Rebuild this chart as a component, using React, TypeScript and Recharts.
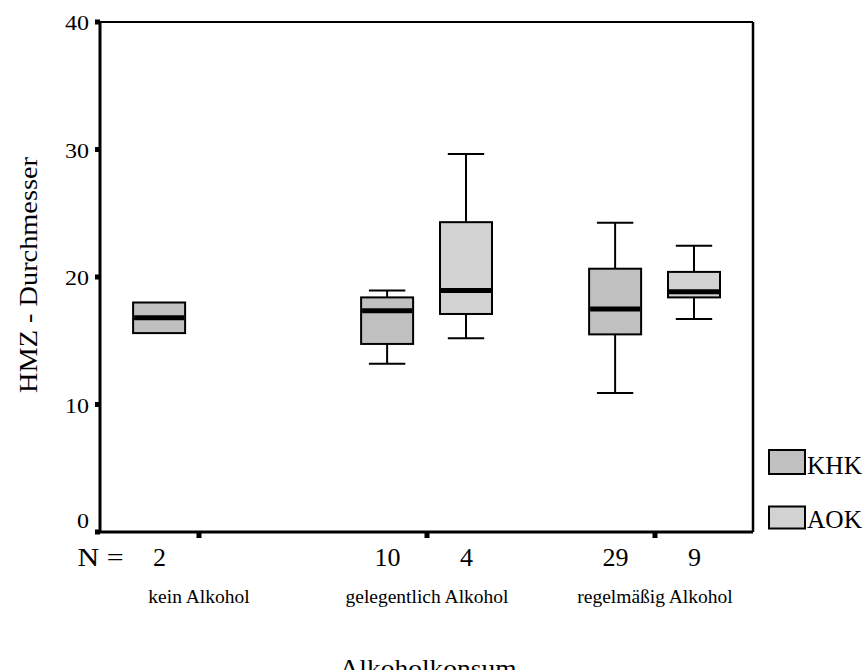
import React from 'react';
import { ComposedChart, Bar, XAxis, YAxis, Legend } from 'recharts';

// ---------- data ----------
const categories = ['kein Alkohol', 'gelegentlich Alkohol', 'regelmäßig Alkohol'];
const groups = ['KHK', 'AOK'];

const khkN = [2, 10, 29];
const khkMin = [null, 13.2, 10.9];
const khkQ1 = [15.6, 14.75, 15.5];
const khkMedian = [16.8, 17.35, 17.5];
const khkQ3 = [18.0, 18.4, 20.65];
const khkMax = [null, 18.95, 24.25];

const aokN = [null, 4, 9];
const aokMin = [null, 15.2, 16.7];
const aokQ1 = [null, 17.1, 18.4];
const aokMedian = [null, 18.95, 18.85];
const aokQ3 = [null, 24.3, 20.4];
const aokMax = [null, 29.65, 22.45];

const yTicks = [0, 10, 20, 30, 40];

// ---------- style / layout ----------
const FONT = "'Liberation Serif', 'Times New Roman', Times, serif";
const W = 865;
const H = 670;
const X_DOMAIN: [number, number] = [-0.4342, 2.4298];
const GROUP_OFFSET = [-0.173, 0.173];
const GROUP_FILL = ['#c0c0c0', '#d2d2d2'];

type Row = {
  x: number;
  cat: number;
  group: number;
  n: number;
  min: number | null;
  q1: number;
  median: number;
  q3: number;
  max: number | null;
};

const seriesStats = [
  { n: khkN, min: khkMin, q1: khkQ1, median: khkMedian, q3: khkQ3, max: khkMax },
  { n: aokN, min: aokMin, q1: aokQ1, median: aokMedian, q3: aokQ3, max: aokMax },
];

const rows: Row[] = [];
categories.forEach((_, i) => {
  seriesStats.forEach((s, g) => {
    if (s.q1[i] == null) return;
    rows.push({
      x: i + GROUP_OFFSET[g],
      cat: i,
      group: g,
      n: s.n[i] as number,
      min: s.min[i],
      q1: s.q1[i] as number,
      median: s.median[i] as number,
      q3: s.q3[i] as number,
      max: s.max[i],
    });
  });
});

const labelTicks = [...categories.map((_, i) => i), ...rows.map((r) => r.x)].sort((a, b) => a - b);

function BoxShape(props: any) {
  const { x, y, width, height, payload } = props;
  const p = payload as Row;
  if (typeof y !== 'number' || typeof height !== 'number') return null;
  const ppu = height / (p.q3 - p.q1);
  const toY = (v: number) => y + (p.q3 - v) * ppu;
  const cx = x + width / 2;
  const cap = width * 0.7;
  const fill = GROUP_FILL[p.group];
  return (
    <g>
      {p.max != null && (
        <g>
          <line x1={cx} x2={cx} y1={toY(p.max)} y2={y} stroke="#000" strokeWidth={2} />
          <line x1={cx - cap / 2} x2={cx + cap / 2} y1={toY(p.max)} y2={toY(p.max)} stroke="#000" strokeWidth={2} />
        </g>
      )}
      {p.min != null && (
        <g>
          <line x1={cx} x2={cx} y1={y + height} y2={toY(p.min)} stroke="#000" strokeWidth={2} />
          <line x1={cx - cap / 2} x2={cx + cap / 2} y1={toY(p.min)} y2={toY(p.min)} stroke="#000" strokeWidth={2} />
        </g>
      )}
      <rect x={x} y={y} width={width} height={height} fill={fill} stroke="#000" strokeWidth={2} />
      <line x1={x + 1} x2={x + width - 1} y1={toY(p.median)} y2={toY(p.median)} stroke="#000" strokeWidth={5} />
    </g>
  );
}

function XLabelTick(props: any) {
  const { x, y, payload } = props;
  const v = payload.value as number;
  const catIdx = categories.findIndex((_, i) => Math.abs(i - v) < 1e-6);
  if (catIdx >= 0) {
    return (
      <g>
        <rect x={x - 2.5} y={y + 1} width={5} height={5} fill="#000" />
        <text x={x} y={y + 70.5} textAnchor="middle" fontSize={19.5} fontFamily={FONT} fill="#000">
          {categories[catIdx]}
        </text>
      </g>
    );
  }
  const idx = rows.findIndex((r) => Math.abs(r.x - v) < 1e-6);
  if (idx < 0) return null;
  const row = rows[idx];
  return (
    <g>
      {idx === 0 && (
        <text x={x - 82} y={y + 34} fontSize={26} fontFamily={FONT} fill="#000" textLength={46} lengthAdjust="spacingAndGlyphs">
          N =
        </text>
      )}
      <text x={x} y={y + 34} textAnchor="middle" fontSize={26} fontFamily={FONT} fill="#000">
        {row.n}
      </text>
    </g>
  );
}

function YTick(props: any) {
  const { x, y, payload } = props;
  const v = payload.value as number;
  const s = String(v);
  return (
    <g>
      <rect x={x - 5} y={y - 2.5} width={5} height={5} fill="#000" />
      <text
        x={x - 11}
        y={v === 0 ? y - 4 : y + 8}
        textAnchor="end"
        fontSize={21}
        fontFamily={FONT}
        fill="#000"
        textLength={12 * s.length}
        lengthAdjust="spacingAndGlyphs"
      >
        {s}
      </text>
    </g>
  );
}

const legendBoxY = [10, 66.5];
const legendBoxH = [24, 22];
const legendTextY = [34, 88];

function LegendContent() {
  return (
    <svg width={105} height={100} style={{ display: 'block', overflow: 'visible' }}>
      {groups.map((g, i) => (
        <g key={g}>
          <rect x={9} y={legendBoxY[i]} width={36} height={legendBoxH[i]} fill={GROUP_FILL[i]} stroke="#000" strokeWidth={2} />
          <text x={47} y={legendTextY[i]} fontSize={26} fontFamily={FONT} fill="#000" textLength={55} lengthAdjust="spacingAndGlyphs">
            {g}
          </text>
        </g>
      ))}
    </svg>
  );
}

export default function App() {
  return (
    <div style={{ position: 'absolute', left: 0, top: 0, width: W, height: H, background: '#fff' }}>
      <ComposedChart width={W} height={H} data={rows} margin={{ top: 21, right: 111, bottom: 0, left: 0 }}>
        <XAxis xAxisId="main" dataKey="x" type="number" domain={X_DOMAIN} allowDataOverflow hide />
        <XAxis
          xAxisId="labels"
          dataKey="x"
          type="number"
          domain={X_DOMAIN}
          allowDataOverflow
          ticks={labelTicks}
          interval={0}
          tick={<XLabelTick />}
          tickLine={false}
          tickSize={0}
          tickMargin={0}
          height={138}
          axisLine={{ stroke: '#000', strokeWidth: 3 }}
          label={{
            content: (p: any) => {
              const vb = p.viewBox || { x: 100, y: 532, width: 653 };
              return (
                <text
                  x={vb.x + vb.width / 2 + 1.5}
                  y={vb.y + 145}
                  textAnchor="middle"
                  fontSize={26}
                  fontFamily={FONT}
                  fill="#000"
                  textLength={177}
                  lengthAdjust="spacingAndGlyphs"
                >
                  Alkoholkonsum
                </text>
              );
            },
          }}
        />
        <XAxis
          xAxisId="top"
          dataKey="x"
          orientation="top"
          type="number"
          domain={X_DOMAIN}
          allowDataOverflow
          tick={false}
          tickLine={false}
          height={1}
          axisLine={{ stroke: '#000', strokeWidth: 2 }}
        />
        <YAxis
          yAxisId="left"
          type="number"
          domain={[0, 40]}
          allowDataOverflow
          ticks={yTicks}
          interval={0}
          width={100}
          tick={<YTick />}
          tickLine={false}
          tickSize={0}
          tickMargin={0}
          axisLine={{ stroke: '#000', strokeWidth: 3 }}
          label={{
            content: (p: any) => {
              const vb = p.viewBox || { y: 22, height: 510 };
              const cy = vb.y + vb.height / 2 - 2;
              return (
                <text
                  transform={`rotate(-90, 36.5, ${cy})`}
                  x={36.5}
                  y={cy}
                  textAnchor="middle"
                  fontSize={25}
                  fontFamily={FONT}
                  fill="#000"
                  textLength={236}
                  lengthAdjust="spacingAndGlyphs"
                >
                  HMZ - Durchmesser
                </text>
              );
            },
          }}
        />
        <YAxis
          yAxisId="right"
          orientation="right"
          type="number"
          domain={[0, 40]}
          allowDataOverflow
          width={1}
          tick={false}
          tickLine={false}
          axisLine={{ stroke: '#000', strokeWidth: 2.5 }}
        />
        <Bar
          xAxisId="main"
          yAxisId="left"
          dataKey={(d: Row) => [d.q1, d.q3]}
          barSize={52}
          isAnimationActive={false}
          shape={(p: any) => <BoxShape {...p} />}
        />
        <Legend
          layout="vertical"
          align="center"
          verticalAlign="middle"
          content={<LegendContent />}
          wrapperStyle={{ left: 760, top: 440, width: 105, height: 100 }}
        />
      </ComposedChart>
    </div>
  );
}
